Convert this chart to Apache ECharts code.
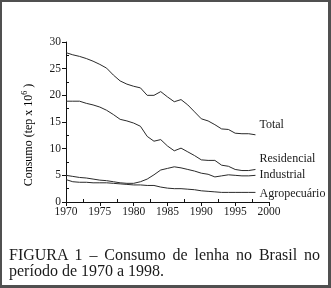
<!DOCTYPE html>
<html>
<head>
<meta charset="utf-8">
<script src="https://cdn.jsdelivr.net/npm/echarts@6/dist/echarts.min.js"></script>
<style>
  html, body { margin: 0; padding: 0; background: #fff; }
  #wrap { position: relative; width: 331px; height: 288px; overflow: hidden; }
  #chart { position: absolute; left: 0; top: 0; width: 331px; height: 288px; }
  #frame { position: absolute; left: 0; top: 0; width: 331px; height: 288px; box-sizing: border-box;
           border-style: solid; border-color: #505050; border-width: 2px 3px 3px 2px; pointer-events: none; }
  .cap { position: absolute; left: 9px; width: 311px; font-family: "Liberation Serif", "Times New Roman", serif;
         font-size: 16px; line-height: 16px; color: #1a1a1a; white-space: nowrap; }
  #cap1 { top: 247px; text-align: justify; text-align-last: justify; }
  #cap2 { top: 263px; }
</style>
</head>
<body>
<div id="wrap">
  <div id="chart"></div>
  <div class="cap" id="cap1">FIGURA 1 – Consumo de lenha no Brasil no</div>
  <div class="cap" id="cap2">período de 1970 a 1998.</div>
  <div id="frame"></div>
</div>
<script>
var anos = [1970, 1971, 1972, 1973, 1974, 1975, 1976, 1977, 1978, 1979,
            1980, 1981, 1982, 1983, 1984, 1985, 1986, 1987, 1988, 1989,
            1990, 1991, 1992, 1993, 1994, 1995, 1996, 1997, 1998];
var total = [28.0, 27.6, 27.3, 26.9, 26.4, 25.8, 25.1, 23.8, 22.7, 22.1,
             21.7, 21.4, 20.0, 20.0, 20.7, 19.7, 18.8, 19.2, 18.2, 16.9,
             15.6, 15.2, 14.5, 13.7, 13.6, 12.9, 12.8, 12.8, 12.6];
var residencial = [18.9, 18.9, 18.9, 18.5, 18.2, 17.8, 17.2, 16.4, 15.5, 15.2,
                   14.8, 14.2, 12.3, 11.4, 11.7, 10.5, 9.6, 10.1, 9.4, 8.7,
                   7.9, 7.8, 7.8, 6.9, 6.7, 6.1, 5.9, 5.9, 6.1];
var industrial = [5.0, 4.8, 4.6, 4.5, 4.3, 4.1, 4.0, 3.8, 3.6, 3.5,
                  3.5, 3.8, 4.3, 5.1, 6.0, 6.3, 6.6, 6.4, 6.1, 5.8,
                  5.4, 5.2, 4.7, 4.9, 5.1, 5.0, 4.9, 4.9, 5.0];
var agropecuario = [4.2, 3.8, 3.7, 3.7, 3.6, 3.6, 3.6, 3.5, 3.4, 3.3,
                    3.2, 3.2, 3.1, 3.1, 2.8, 2.6, 2.5, 2.5, 2.4, 2.3,
                    2.1, 2.0, 1.9, 1.8, 1.8, 1.8, 1.8, 1.8, 1.8];
var nomes = ['Total', 'Residencial', 'Industrial', 'Agropecuário'];
var deslocY = [-10, -11, 0, 1];   // posição vertical dos rótulos no fim das linhas

var fonte = '"Liberation Serif", "Times New Roman", serif';
var cor = '#1a1a1a';

function pares(vals) {
  return anos.map(function (a, i) { return [a, vals[i]]; });
}

function serie(i, vals) {
  return {
    name: nomes[i],
    type: 'line',
    data: pares(vals),
    showSymbol: false,
    symbol: 'none',
    silent: true,
    lineStyle: { color: '#2a2a2a', width: 1 },
    endLabel: {
      show: true,
      formatter: '{a}',
      distance: 4,
      offset: [0, deslocY[i]],
      fontFamily: fonte,
      fontSize: 12,
      color: cor
    }
  };
}

var chart = echarts.init(document.getElementById('chart'), null, { renderer: 'canvas' });
chart.setOption({
  animation: false,
  backgroundColor: '#fff',
  grid: { left: 66, right: 62, top: 42, bottom: 86 },
  xAxis: {
    type: 'value', min: 1970, max: 2000, interval: 5,
    axisLine: { lineStyle: { color: '#111', width: 1 } },
    axisTick: { length: 4, lineStyle: { color: '#111' } },
    minorTick: { show: true, splitNumber: 2, length: -3, lineStyle: { color: '#111' } },
    splitLine: { show: false },
    axisLabel: { fontFamily: fonte, fontSize: 11.5, color: cor, margin: 4,
                 formatter: function (v) { return String(v); } }
  },
  yAxis: {
    type: 'value', min: 0, max: 30, interval: 5,
    axisLine: { show: true, lineStyle: { color: '#111', width: 1 } },
    axisTick: { show: true, length: 4, lineStyle: { color: '#111' } },
    minorTick: { show: true, splitNumber: 2, length: -3, lineStyle: { color: '#111' } },
    splitLine: { show: false },
    axisLabel: { fontFamily: fonte, fontSize: 11.5, color: cor, margin: 5 }
  },
  graphic: [{
    type: 'text',
    x: 29, y: 135,
    rotation: Math.PI / 2,
    style: {
      text: '{a|Consumo (tep x 10}{s|6}{a| )}',
      align: 'center',
      verticalAlign: 'middle',
      rich: {
        a: { fontFamily: fonte, fontSize: 12, color: cor, lineHeight: 16 },
        s: { fontFamily: fonte, fontSize: 8, color: cor, lineHeight: 8, verticalAlign: 'top' }
      }
    }
  }],
  series: [
    serie(0, total),
    serie(1, residencial),
    serie(2, industrial),
    serie(3, agropecuario)
  ]
});
</script>
</body>
</html>
